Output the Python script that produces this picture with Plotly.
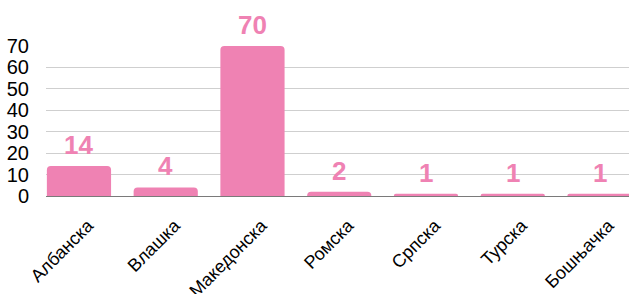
import plotly.graph_objects as go

categories = ["Албанска", "Влашка", "Македонска", "Ромска", "Српска", "Турска", "Бошњачка"]
values = [14, 4, 70, 2, 1, 1, 1]
y_ticks = [0, 10, 20, 30, 40, 50, 60, 70]

pink = "#EF82B3"

fig = go.Figure()
fig.add_trace(go.Bar(
    x=categories, y=values, marker=dict(color=pink, line=dict(width=0),
                                        cornerradius=4),
    width=0.74, hoverinfo="skip",
))
for c, v in zip(categories, values):
    fig.add_annotation(x=c, y=v, text=str(v), showarrow=False, yanchor="bottom",
                       yshift=4, font=dict(family="Liberation Sans, Arial", size=26,
                                           color=pink, weight="bold"))

fig.update_layout(
    width=629, height=294,
    margin=dict(l=46, r=0, t=46, b=98, autoexpand=False),
    paper_bgcolor="white", plot_bgcolor="white",
    showlegend=False,
    font=dict(family="Liberation Sans, Arial", color="black"),
)
fig.update_xaxes(
    range=[-0.38, 6.34], tickangle=-45, tickfont=dict(size=18, color="black"),
    showline=True, linecolor="#7a7a7a", linewidth=1, automargin=False,
    ticks="outside", ticklen=11, tickcolor="rgba(0,0,0,0)", showgrid=False,
    ticklabelshift=9,
)
fig.update_yaxes(
    range=[0, 70], tickvals=y_ticks, tickfont=dict(size=20, color="black"),
    showgrid=True, gridcolor="#cfcfcf", gridwidth=1, zeroline=False, automargin=False,
    ticks="outside", ticklen=12, tickcolor="rgba(0,0,0,0)",
)
fig.write_html("out.html", config={"displayModeBar": False},
               post_script="document.body.style.margin='0px';")
